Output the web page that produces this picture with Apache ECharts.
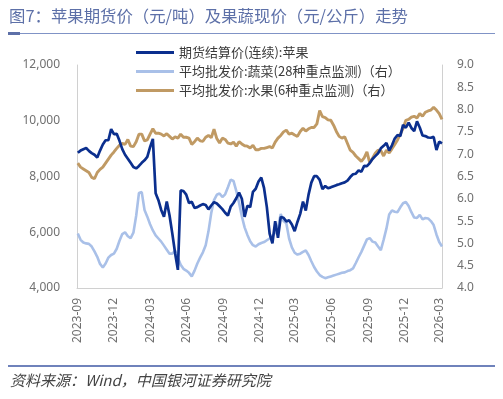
<!DOCTYPE html>
<html>
<head>
<meta charset="utf-8">
<script src="https://cdn.jsdelivr.net/npm/echarts@6/dist/echarts.min.js"></script>
<style>
html,body{margin:0;padding:0;background:#fff;}
#c{width:503px;height:399px;}
</style>
</head>
<body>
<div id="c"></div>
<script>
const titleText = '图7：苹果期货价（元/吨）及果蔬现价（元/公斤）走势';
const sourceText = '资料来源：Wind，中国银河证券研究院';
const seriesNames = ['期货结算价(连续):苹果', '平均批发价:蔬菜(28种重点监测)（右）', '平均批发价:水果(6种重点监测)（右）'];
const tickDates = ['2023-09-01','2023-12-01','2024-03-01','2024-06-01','2024-09-01','2024-12-01','2025-03-01','2025-06-01','2025-09-01','2025-12-01','2026-03-01'];
const tickLabels = ['2023-09','2023-12','2024-03','2024-06','2024-09','2024-12','2025-03','2025-06','2025-09','2025-12','2026-03'];
const xRange = ['2023-08-30', '2026-03-06'];
const leftTicks = [4000, 6000, 8000, 10000, 12000];
const rightTicks = [4.0, 4.5, 5.0, 5.5, 6.0, 6.5, 7.0, 7.5, 8.0, 8.5, 9.0];

const dates = [
'2023-09-01','2023-09-08','2023-09-15','2023-09-22','2023-09-29','2023-10-06','2023-10-13','2023-10-20','2023-10-27',
'2023-11-03','2023-11-10','2023-11-17','2023-11-24','2023-12-01','2023-12-08','2023-12-15','2023-12-22','2023-12-29',
'2024-01-05','2024-01-12','2024-01-19','2024-01-26','2024-02-02','2024-02-09','2024-02-16','2024-02-23',
'2024-03-01','2024-03-08','2024-03-15','2024-03-22','2024-03-29','2024-04-05','2024-04-12','2024-04-19','2024-04-26',
'2024-05-03','2024-05-10','2024-05-17','2024-05-24','2024-05-31','2024-06-07','2024-06-14','2024-06-21','2024-06-28',
'2024-07-05','2024-07-12','2024-07-19','2024-07-26','2024-08-02','2024-08-09','2024-08-16','2024-08-23','2024-08-30',
'2024-09-06','2024-09-13','2024-09-20','2024-09-27','2024-10-04','2024-10-11','2024-10-18','2024-10-25',
'2024-11-01','2024-11-08','2024-11-15','2024-11-22','2024-11-29','2024-12-06','2024-12-13','2024-12-20','2024-12-27',
'2025-01-03','2025-01-10','2025-01-17','2025-01-24','2025-01-31','2025-02-07','2025-02-14','2025-02-21','2025-02-28',
'2025-03-07','2025-03-14','2025-03-21','2025-03-28','2025-04-04','2025-04-11','2025-04-18','2025-04-25',
'2025-05-02','2025-05-09','2025-05-16','2025-05-23','2025-05-30','2025-06-06','2025-06-13','2025-06-20','2025-06-27',
'2025-07-04','2025-07-11','2025-07-18','2025-07-25','2025-08-01','2025-08-08','2025-08-15','2025-08-22','2025-08-29',
'2025-09-05','2025-09-12','2025-09-19','2025-09-26','2025-10-03','2025-10-10','2025-10-17','2025-10-24','2025-10-31',
'2025-11-07','2025-11-14','2025-11-21','2025-11-28','2025-12-05','2025-12-12','2025-12-19','2025-12-26',
'2026-01-02','2026-01-09','2026-01-16','2026-01-23','2026-01-30','2026-02-06','2026-02-13','2026-02-20','2026-02-27',
'2026-03-06'
];

const appleFutures = [
8850,8930,8980,9020,8920,8840,8780,8680,8930,9150,9300,9300,9700,9520,9530,9280,8980,8780,8640,8490,
8340,8290,8380,8490,8580,8700,9050,9350,7400,7150,6800,6560,7100,6600,5950,5250,4650,7500,7480,7350,
7050,7090,6870,6900,6960,7010,6980,6820,6960,7080,7030,6930,6830,6700,6600,6920,7050,7220,7420,7200,
6550,6950,6900,7450,7560,7820,7960,7580,6900,5950,5600,6400,5800,6550,6520,6390,6430,6280,6040,6370,
6660,7100,6780,7350,7780,8010,8010,7880,7550,7660,7580,7610,7650,7690,7720,7760,7790,7850,7980,8080,
8100,8220,8170,8380,8370,8480,8630,8730,8830,9010,9100,9200,8930,9120,9360,9490,9450,9850,9750,9930,
9740,9630,9980,9760,9470,9450,9400,9390,9420,8950,9250,9190
];

const vegPrice = [
5.22,5.08,5.02,5.00,4.99,4.93,4.82,4.70,4.54,4.46,4.55,4.68,4.74,4.77,4.88,5.06,5.21,5.25,5.16,5.12,
5.24,5.62,6.13,6.15,5.75,5.60,5.43,5.29,5.18,5.11,5.04,4.95,4.86,4.77,4.77,4.84,4.68,4.52,4.43,4.39,
4.34,4.26,4.39,4.55,4.68,4.80,4.96,5.27,5.68,5.97,6.09,6.12,6.04,6.10,6.26,6.43,6.40,6.18,5.91,5.61,
5.36,5.19,5.05,4.96,4.93,4.98,5.01,5.03,5.07,5.11,5.17,5.24,5.36,5.66,5.50,5.45,5.11,4.91,4.79,4.75,
4.77,4.81,4.84,4.74,4.60,4.47,4.37,4.29,4.25,4.22,4.24,4.26,4.28,4.30,4.32,4.34,4.35,4.38,4.40,4.44,
4.56,4.69,4.81,4.95,5.09,5.12,5.04,5.02,4.93,4.85,5.08,5.33,5.65,5.74,5.71,5.70,5.81,5.90,5.93,5.84,
5.70,5.58,5.57,5.64,5.54,5.57,5.56,5.50,5.41,5.20,5.03,4.93
];

const fruitPrice = [
6.80,6.71,6.67,6.63,6.59,6.48,6.45,6.59,6.66,6.71,6.80,6.89,6.98,7.05,7.13,7.20,7.24,7.22,7.33,7.18,
7.17,7.28,7.45,7.45,7.30,7.32,7.45,7.57,7.47,7.47,7.45,7.41,7.46,7.40,7.34,7.39,7.36,7.45,7.38,7.38,
7.36,7.22,7.28,7.36,7.30,7.29,7.38,7.42,7.37,7.56,7.35,7.25,7.36,7.33,7.25,7.23,7.27,7.18,7.28,7.23,
7.19,7.18,7.14,7.20,7.10,7.10,7.13,7.13,7.15,7.17,7.14,7.27,7.36,7.42,7.50,7.54,7.45,7.47,7.43,7.40,
7.51,7.58,7.52,7.57,7.60,7.60,7.68,7.98,7.84,7.82,7.77,7.76,7.65,7.51,7.40,7.36,7.39,7.24,7.09,7.04,
6.96,6.90,6.84,6.92,7.05,6.81,6.91,7.02,7.09,7.08,6.96,7.09,7.03,7.12,7.22,7.32,7.45,7.58,7.76,7.78,
7.83,7.85,7.81,7.91,7.85,7.94,7.97,7.99,8.05,7.99,7.91,7.78
];

const colors = ['#0b2f8e', '#a9c0e8', '#c09a64'];

function t(d) { return Date.UTC(+d.slice(0, 4), +d.slice(5, 7) - 1, +d.slice(8, 10)); }
function pairs(vals) { return dates.map((d, i) => [t(d), vals[i]]); }

const tickTimes = tickDates.map(t);
const labelByTime = {};
tickTimes.forEach((v, i) => { labelByTime[v] = tickLabels[i]; });

const chart = echarts.init(document.getElementById('c'), null, {renderer: 'canvas'});

chart.setOption({
  animation: false,
  backgroundColor: '#ffffff',
  grid: {left: 77, right: 61, top: 65, bottom: 111, containLabel: false},
  legend: {
    orient: 'vertical',
    left: 131, top: 41,
    itemWidth: 38, itemHeight: 3, itemGap: 6,
    icon: 'rect',
    textStyle: {fontSize: 13, color: '#3a3a3a', fontFamily: 'Noto Sans CJK SC'},
    data: seriesNames
  },
  xAxis: {
    type: 'value',
    min: t(xRange[0]),
    max: t(xRange[1]),
    axisLine: {show: true, onZero: false, lineStyle: {color: '#d0d0d0', width: 1}},
    axisTick: {show: false},
    splitLine: {show: false},
    axisLabel: {
      customValues: tickTimes,
      rotate: 90,
      margin: 10,
      fontSize: 12,
      color: '#707070',
      fontFamily: 'Noto Sans',
      hideOverlap: false,
      showMinLabel: true,
      showMaxLabel: true,
      formatter: function (v) { return labelByTime[v] || ''; }
    }
  },
  yAxis: [{
    type: 'value',
    min: leftTicks[0], max: leftTicks[leftTicks.length - 1], interval: 2000,
    axisLine: {show: true, lineStyle: {color: '#d0d0d0'}},
    axisTick: {show: false},
    splitLine: {show: false},
    axisLabel: {fontSize: 12, color: '#707070', margin: 17, fontFamily: 'Noto Sans'}
  }, {
    type: 'value',
    min: rightTicks[0], max: rightTicks[rightTicks.length - 1], interval: 0.5,
    axisLine: {show: true, lineStyle: {color: '#d0d0d0'}},
    axisTick: {show: false},
    splitLine: {show: false},
    axisLabel: {fontSize: 12, color: '#707070', margin: 15, fontFamily: 'Noto Sans', formatter: v => v.toFixed(1)}
  }],
  series: [{
    name: seriesNames[0], type: 'line', yAxisIndex: 0, symbol: 'none',
    data: pairs(appleFutures), lineStyle: {color: colors[0], width: 2.7}, itemStyle: {color: colors[0]}, z: 3
  }, {
    name: seriesNames[1], type: 'line', yAxisIndex: 1, symbol: 'none',
    data: pairs(vegPrice), lineStyle: {color: colors[1], width: 2.6}, itemStyle: {color: colors[1]}, z: 2
  }, {
    name: seriesNames[2], type: 'line', yAxisIndex: 1, symbol: 'none',
    data: pairs(fruitPrice), lineStyle: {color: colors[2], width: 2.9}, itemStyle: {color: colors[2]}, z: 1
  }],
  graphic: [
    {type: 'text', left: 9, top: 8, style: {text: titleText, fontSize: 16.4, fill: '#5d70a8', fontFamily: 'Noto Sans CJK SC'}},
    {type: 'rect', shape: {x: 8, y: 33, width: 487, height: 1}, style: {fill: '#8093c6'}},
    {type: 'rect', shape: {x: 8, y: 32, width: 12, height: 3}, style: {fill: '#5d70a8'}},
    {type: 'rect', shape: {x: 8, y: 365, width: 487, height: 2}, style: {fill: '#6f82bb'}},
    {type: 'text', left: 10, top: 373, style: {text: sourceText, fontSize: 15, fill: '#444', fontStyle: 'italic', fontFamily: 'Noto Sans CJK SC'}}
  ]
});
</script>
</body>
</html>
